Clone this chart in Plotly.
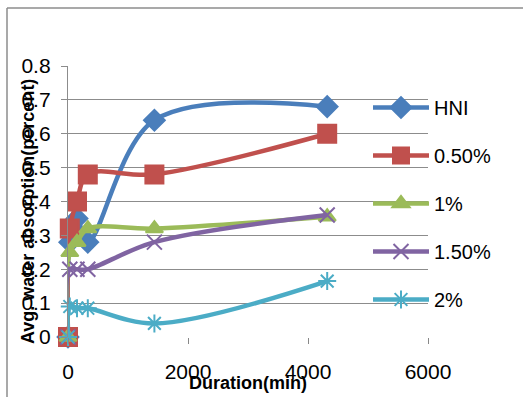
import plotly.graph_objects as go

durations = [0, 30, 150, 330, 1440, 4320]
hni = [0, 0.28, 0.35, 0.28, 0.64, 0.68]
p050 = [0, 0.32, 0.40, 0.48, 0.48, 0.60]
p1 = [0, 0.25, 0.28, 0.32, 0.32, 0.355]
p150 = [0, 0.20, 0.20, 0.20, 0.28, 0.36]
p2 = [0, 0.09, 0.085, 0.085, 0.04, 0.165]

names = ["HNI", "0.50%", "1%", "1.50%", "2%"]
values = [hni, p050, p1, p150, p2]
colors = ["#4A7EBB", "#C0504D", "#9BBB59", "#8064A2", "#4BACC6"]
symbols = ["diamond", "square", "triangle-up", "x-thin", "asterisk"]
sizes = [16, 18, 15, 15, 15]

fig = go.Figure()
for n, v, c, s, sz in zip(names, values, colors, symbols, sizes):
    fig.add_trace(go.Scatter(
        x=durations, y=v, name=n, mode="lines+markers", legendgroup=n,
        cliponaxis=False,
        line=dict(color=c, width=4.5, shape="spline", smoothing=1.0),
        marker=dict(symbol=s, size=sz, color=c, line=dict(color=c, width=2)),
    ))

L, R, T, B = 68, 95, 66, 60
W, H = 523, 397
pw, ph = W - L - R, H - T - B

def px(x):
    return (x - L) / pw

def py(y):
    return (H - B - y) / ph

fig.update_layout(
    width=W, height=H,
    margin=dict(l=L, r=R, t=T, b=B),
    paper_bgcolor="white", plot_bgcolor="white",
    font=dict(family="Liberation Sans, Arial, sans-serif", color="black"),
    showlegend=True,
    legend=dict(x=px(368), y=py(88), xanchor="left", yanchor="top",
                bgcolor="rgba(0,0,0,0)", font=dict(size=20),
                tracegroupgap=19, itemwidth=56),
    xaxis=dict(range=[0, 6000], tickvals=[0, 2000, 4000, 6000],
               showgrid=False, zeroline=False, showline=False,
               ticks="outside", ticklen=6, tickcolor="#888",
               ticklabelstandoff=10,
               tickfont=dict(size=21)),
    yaxis=dict(range=[0, 0.8], dtick=0.1, tickformat=".1~f",
               showgrid=True, gridcolor="#8C8C8C", gridwidth=1.3,
               zeroline=False, showline=True, linecolor="#8C8C8C", linewidth=1.3,
               ticks="outside", ticklen=6, tickcolor="#8C8C8C",
               ticklabelstandoff=6,
               tickfont=dict(size=21)),
    annotations=[
        dict(text="<b>Avg. water absorption(percent)</b>", textangle=-90,
             xref="paper", yref="paper", x=px(28), y=py(212),
             xanchor="center", yanchor="middle", showarrow=False,
             font=dict(size=18)),
        dict(text="<b>Duration(min)</b>",
             xref="paper", yref="paper", x=px(248), y=py(383),
             xanchor="center", yanchor="middle", showarrow=False,
             font=dict(size=18)),
    ],
    shapes=[
        dict(type="line", xref="paper", yref="paper", x0=px(7), x1=px(7),
             y0=py(8), y1=py(400), line=dict(color="#8C8C8C", width=1.5)),
        dict(type="line", xref="paper", yref="paper", x0=px(7), x1=px(530),
             y0=py(8), y1=py(8), line=dict(color="#8C8C8C", width=1.5)),
    ],
)

fig.write_html("out.html")
